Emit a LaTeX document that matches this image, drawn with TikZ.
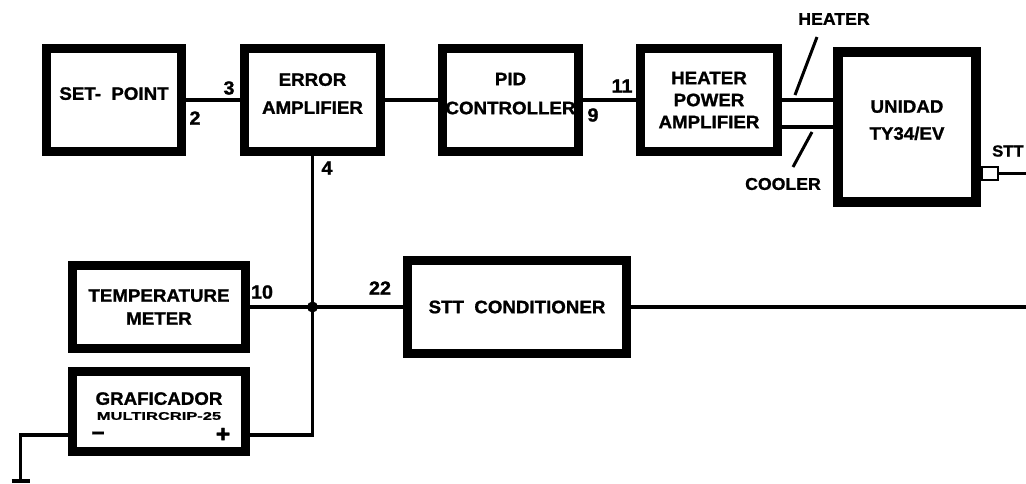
\documentclass[tikz,border=0pt]{standalone}
\usepackage{fontspec}
\newfontfamily\cadfont[FakeStretch=1.04, BoldFeatures={FakeBold=1.2}]{Liberation Sans}
\newfontfamily\cadwide[FakeStretch=1.5, BoldFeatures={FakeBold=1.2}]{Liberation Sans}
\usetikzlibrary{positioning}

\begin{document}
\begin{tikzpicture}[
    x=1pt, y=-1pt,
    font=\cadfont\bfseries\fontsize{18}{23}\selectfont,
    block/.style={rectangle, draw, line width=9pt, align=center, inner sep=0pt},
    line/.style={draw, line width=3.5pt},
    pinlbl/.style={font=\cadfont\bfseries\fontsize{19}{19}\selectfont, inner sep=0pt},
    tick/.style={draw, line width=3pt}
]
    \useasboundingbox (0,0) rectangle (1026,483);

    % top row
    \node [block, minimum width=135pt, minimum height=103pt, text depth=13pt] (setpt) at (114,100) {SET-~~POINT};
    \node [block, minimum width=136pt, minimum height=103pt, text depth=13pt, font=\cadfont\bfseries\fontsize{18}{28}\selectfont] (erramp) at (312.5,100) {ERROR\\AMPLIFIER};
    \node [block, minimum width=136pt, minimum height=103pt, text depth=13pt, font=\cadfont\bfseries\fontsize{18}{29}\selectfont] (pid) at (510.5,100) {PID\\CONTROLLER};
    \node [block, minimum width=137pt, minimum height=103pt, font=\cadfont\bfseries\fontsize{18}{22}\selectfont] (hpa) at (709,100) {HEATER\\POWER\\AMPLIFIER};
    \node [block, line width=10pt, minimum width=138pt, minimum height=150pt, text depth=14pt, font=\cadfont\bfseries\fontsize{18}{27}\selectfont] (unidad) at (907,127) {UNIDAD\\TY34/EV};
    \node [draw, line width=2pt, minimum width=16pt, minimum height=13pt, inner sep=0pt] (port) at (990,173.5) {};

    % bottom row
    \node [block, minimum width=173pt, minimum height=83pt] (tempm) at (159,307) {TEMPERATURE\\METER};
    \node [block, minimum width=173pt, minimum height=80pt, text depth=11pt] (graf) at (159,411.5) {GRAFICADOR\\[-8pt]{\cadwide\fontsize{11}{11}\selectfont MULTIRCRIP-25}};
    \node [block, minimum width=219pt, minimum height=93pt] (sttc) at (517,307) {STT~~CONDITIONER};

    \coordinate (junc) at (erramp.south |- tempm.east);
    \coordinate (grafplus) at ([yshift=-23.5pt]graf.east);
    \coordinate (grafminus) at ([yshift=-23.5pt]graf.west);
    \coordinate (gnd) at (20.5,481);
    \coordinate (rimc) at (1032,307);
    \coordinate (rimp) at (1032,173.5);

    % connectors
    \path [line] (setpt) -- (erramp);
    \path [line] (erramp) -- (pid);
    \path [line] (pid) -- (hpa);
    \path [line] (hpa.east) -- (hpa.east -| unidad.west);
    \path [line] ([yshift=-27pt]hpa.east) -- ([yshift=-27pt]hpa.east -| unidad.west);
    \path [line, line width=2.5pt] (port.east) -- (rimp);
    \path [line] (erramp.south) -- (grafplus -| erramp.south) -- (grafplus);
    \path [line] (tempm) -- (sttc);
    \path [line] (sttc.east) -- (rimc);
    \path [line] (grafminus) -| (gnd);
    \draw [line width=4pt] ([xshift=-9pt]gnd) -- ([xshift=9pt]gnd);
    \fill (junc) circle (5.5pt);

    % terminal numbers
    \node [pinlbl] (n2) at (195,118) {2};
    \node [pinlbl] (n3) at (229,88) {3};
    \node [pinlbl] (n4) at (327,168) {4};
    \node [pinlbl] (n9) at (593,115) {9};
    \node [pinlbl] (n11) at (622,86) {11};
    \node [pinlbl] (n10) at (262,292) {10};
    \node [pinlbl] (n22) at (380,288) {22};
    \node [pinlbl, font=\cadfont\bfseries\fontsize{22}{22}\selectfont] (gminus) at (98,436) {−};
    \node [pinlbl, font=\cadfont\bfseries\fontsize{24}{24}\selectfont] (gplus) at (223,435) {+};

    % heater / cooler / stt
    \node [pinlbl, font=\cadfont\bfseries\fontsize{17}{17}\selectfont] (heatlbl) at (834,19) {HEATER};
    \node [pinlbl, font=\cadfont\bfseries\fontsize{17}{17}\selectfont] (coollbl) at (783,184) {COOLER};
    \node [pinlbl, font=\cadfont\bfseries\fontsize{16}{16}\selectfont, anchor=west] (sttlbl) at (992,151) {STT};
    \path [tick] (heatlbl) ++(-17,18) -- ++(-22,58);
    \path [tick] (coollbl) ++(29,-52) -- ++(-19,35);
\end{tikzpicture}
\end{document}
